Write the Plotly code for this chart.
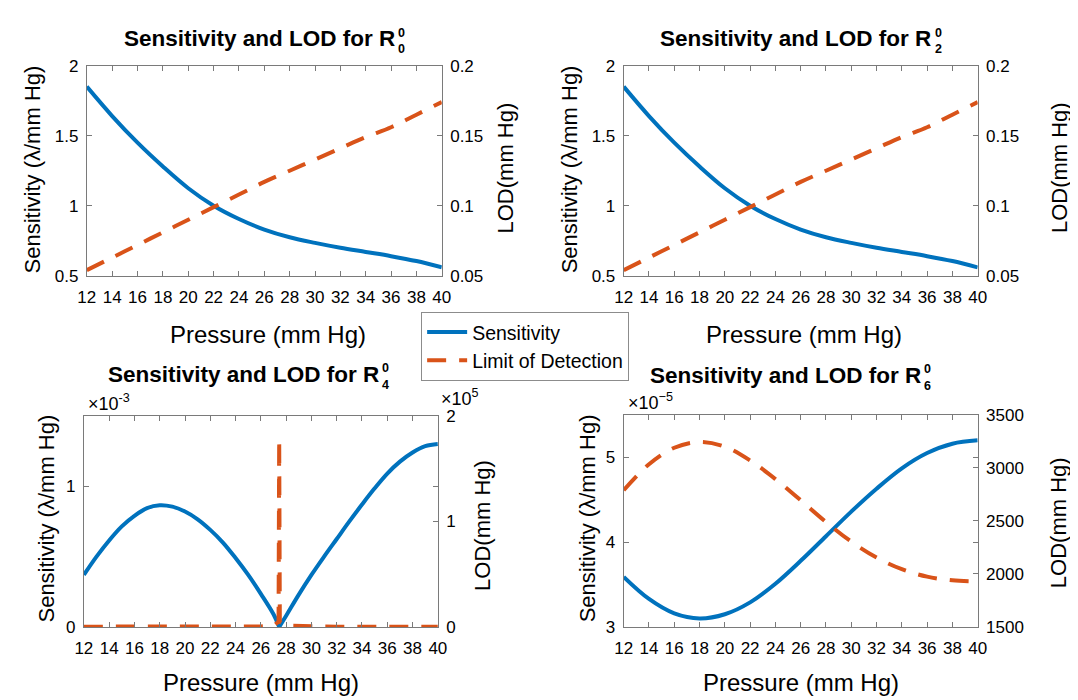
import plotly.graph_objects as go

W, H = 1078, 700

# ---------------- data ----------------
pressure = [12, 14, 16, 18, 20, 22, 24, 26, 28, 30, 32, 34, 36, 38, 40]

# R0^0 and R2^0 panels
sens_r0 = [1.85, 1.64, 1.45, 1.28, 1.125, 1.00, 0.905, 0.83, 0.775, 0.735, 0.70, 0.67, 0.64, 0.605, 0.56]
lod_r0 = [0.054, 0.063, 0.072, 0.081, 0.090, 0.099, 0.108, 0.117, 0.125, 0.133, 0.141, 0.149, 0.156, 0.165, 0.174]
sens_r2 = [1.85, 1.64, 1.45, 1.28, 1.125, 1.00, 0.905, 0.83, 0.775, 0.735, 0.70, 0.67, 0.64, 0.605, 0.56]
lod_r2 = [0.054, 0.063, 0.072, 0.081, 0.090, 0.099, 0.108, 0.117, 0.125, 0.133, 0.141, 0.149, 0.156, 0.165, 0.174]

# R4^0 panel (sensitivity in units of 1e-3, LOD in units of 1e5)
# sensitivity: two arcs meeting at the zero near 27.45 (None separates the arcs)
pressure_r4_sens = [12, 13, 14, 15, 16, 17, 18, 19, 20, 21, 22, 23, 24, 25, 26, 27, 27.45, None,
                    27.45, 28, 29, 30, 31, 32, 33, 34, 35, 36, 37, 38, 39, 40]
sens_r4 = [0.37, 0.50, 0.615, 0.715, 0.79, 0.845, 0.865, 0.855, 0.82, 0.765, 0.69, 0.60, 0.49, 0.37,
           0.235, 0.09, 0.0, None,
           0.0, 0.08, 0.23, 0.37, 0.50, 0.625, 0.75, 0.87, 0.985, 1.09, 1.175, 1.24, 1.285, 1.30]
pressure_r4_lod = [12, 14, 16, 18, 20, 22, 24, 26, 27, 27.4, 27.45, 27.5, 28, 30, 32, 34, 36, 38, 40]
lod_r4 = [0.003, 0.002, 0.002, 0.002, 0.002, 0.003, 0.003, 0.005, 0.012, 0.05, 1.78, 0.05, 0.012,
          0.004, 0.003, 0.002, 0.002, 0.002, 0.002]

# R6^0 panel (sensitivity in units of 1e-5)
sens_r6 = [3.59, 3.33, 3.16, 3.10, 3.15, 3.29, 3.51, 3.78, 4.07, 4.36, 4.63, 4.87, 5.05, 5.16, 5.20]
lod_r6 = [2790, 3035, 3190, 3245, 3200, 3070, 2895, 2695, 2490, 2305, 2155, 2045, 1975, 1940, 1930]

x_ticks = list(range(12, 41, 2))
series_names = ["Sensitivity", "Limit of Detection"]
titles_sub = ["0", "2", "4", "6"]

BLUE = "#0072BD"
ORANGE = "#D95319"
AX = "#7a7a7a"
FONT = "Liberation Sans, Arial, sans-serif"


def px(x):
    return x / W


def py(y):
    return 1 - y / H


# panel boxes in pixels: (left, right, top, bottom)
boxes = [(71, 432, 50, 266), (617, 977, 50, 266), (68, 428, 410, 627), (617, 977, 409, 627)]

panels = [
    dict(xs=pressure, s=sens_r0, xl=pressure, l=lod_r0, yl=[0.5, 2], yt=[0.5, 1, 1.5, 2],
         yr=[0.05, 0.2], yrt=[0.05, 0.1, 0.15, 0.2], ls="spline"),
    dict(xs=pressure, s=sens_r2, xl=pressure, l=lod_r2, yl=[0.5, 2], yt=[0.5, 1, 1.5, 2],
         yr=[0.05, 0.2], yrt=[0.05, 0.1, 0.15, 0.2], ls="spline"),
    dict(xs=pressure_r4_sens, s=sens_r4, xl=pressure_r4_lod, l=lod_r4, yl=[0, 1.5], yt=[0, 1],
         yr=[0, 2], yrt=[0, 1, 2], ls="linear"),
    dict(xs=pressure, s=sens_r6, xl=pressure, l=lod_r6, yl=[3, 5.5], yt=[3, 4, 5],
         yr=[1500, 3500], yrt=[1500, 2000, 2500, 3000, 3500], ls="spline"),
]

fig = go.Figure()
layout = {}
tickfont = dict(family=FONT, size=17, color="black")

for i, (p, b) in enumerate(zip(panels, boxes), start=1):
    xa = f"x{i}"
    yl = f"y{i}"
    yr = f"y{i + 4}"
    fig.add_trace(go.Scatter(x=p["xs"], y=p["s"], xaxis=xa, yaxis=yl, mode="lines",
                             name=series_names[0], showlegend=(i == 1), legendgroup="s",
                             connectgaps=False,
                             line=dict(color=BLUE, width=4, shape="spline")))
    fig.add_trace(go.Scatter(x=p["xl"], y=p["l"], xaxis=xa, yaxis=yr, mode="lines",
                             name=series_names[1], showlegend=(i == 1), legendgroup="l",
                             line=dict(color=ORANGE, width=4, dash="19px,13px", shape=p["ls"])))
    left, right, top, bottom = b
    layout[f"xaxis{i}"] = dict(domain=[px(left), px(right)], anchor=yl, range=[12, 40],
                               tickvals=x_ticks, ticks="inside", ticklen=5, tickcolor=AX,
                               showline=True, linecolor=AX, linewidth=1, mirror="ticks",
                               showgrid=False, zeroline=False, tickfont=tickfont,
                               ticklabelstandoff=6)
    layout[f"yaxis{i}"] = dict(domain=[py(bottom), py(top)], anchor=xa, range=p["yl"],
                               tickvals=p["yt"], ticks="inside", ticklen=5, tickcolor=AX,
                               showline=True, linecolor=AX, linewidth=1, mirror="ticks",
                               showgrid=False, zeroline=False, tickfont=tickfont,
                               ticklabelstandoff=4)
    layout[f"yaxis{i + 4}"] = dict(overlaying=yl, anchor=xa, side="right", range=p["yr"],
                                   tickvals=p["yrt"], ticks="inside", ticklen=5, tickcolor=AX,
                                   showline=True, linecolor=AX, linewidth=1,
                                   showgrid=False, zeroline=False, tickfont=tickfont,
                                   ticklabelstandoff=4)

annotations = []


def ann(text, x, y, size, xanchor="center", yanchor="middle", angle=0, bold=False):
    annotations.append(dict(text=(f"<b>{text}</b>" if bold else text), x=px(x), y=py(y),
                            xref="paper", yref="paper", xanchor=xanchor, yanchor=yanchor,
                            showarrow=False, textangle=angle,
                            font=dict(family=FONT, size=size, color="black")))


# panel titles ("R" with stacked super/subscript)
title_pos = [(386, 22), (932, 22), (370, 367), (921, 368)]
for (tx, ty), sub in zip(title_pos, titles_sub):
    ann("Sensitivity and LOD for R", tx, ty, 22.5, xanchor="right", bold=True)
    ann("0", tx + 5, ty - 6, 12.5, bold=True)
    ann(sub, tx + 5, ty + 11, 12.5, bold=True)

# axis titles
x_title_pos = [(255, 326), (800, 326), (248, 684), (797, 684)]
for (tx, ty) in x_title_pos:
    ann("Pressure (mm Hg)", tx, ty, 24)

y_left_pos = [(16, 157), (562, 157), (30, 515), (580, 515)]
y_right_pos = [(497, 155), (1060, 155), (474, 523), (1060, 520)]
for (tx, ty) in y_left_pos:
    ann("Sensitivity (λ/mm Hg)", tx, ty, 22, angle=-90)
for (tx, ty) in y_right_pos:
    ann("LOD(mm Hg)", tx, ty, 22, angle=-90)

# exponent multipliers
ann("×10<sup>-3</sup>", 70, 396, 18, xanchor="left")
ann("×10<sup>5</sup>", 429, 391, 18, xanchor="left")
ann("×10<sup>−5</sup>", 619, 395, 18, xanchor="left")

fig.update_layout(
    width=W, height=H,
    margin=dict(l=0, r=0, t=0, b=0),
    paper_bgcolor="white", plot_bgcolor="white",
    showlegend=True,
    legend=dict(x=px(411), y=py(303), xanchor="left", yanchor="top",
                bgcolor="white", bordercolor="#8c8c8c", borderwidth=1,
                font=dict(family=FONT, size=19.5, color="black"),
                tracegroupgap=0, itemwidth=40),
    annotations=annotations,
    **layout,
)

fig.write_html("out.html")
